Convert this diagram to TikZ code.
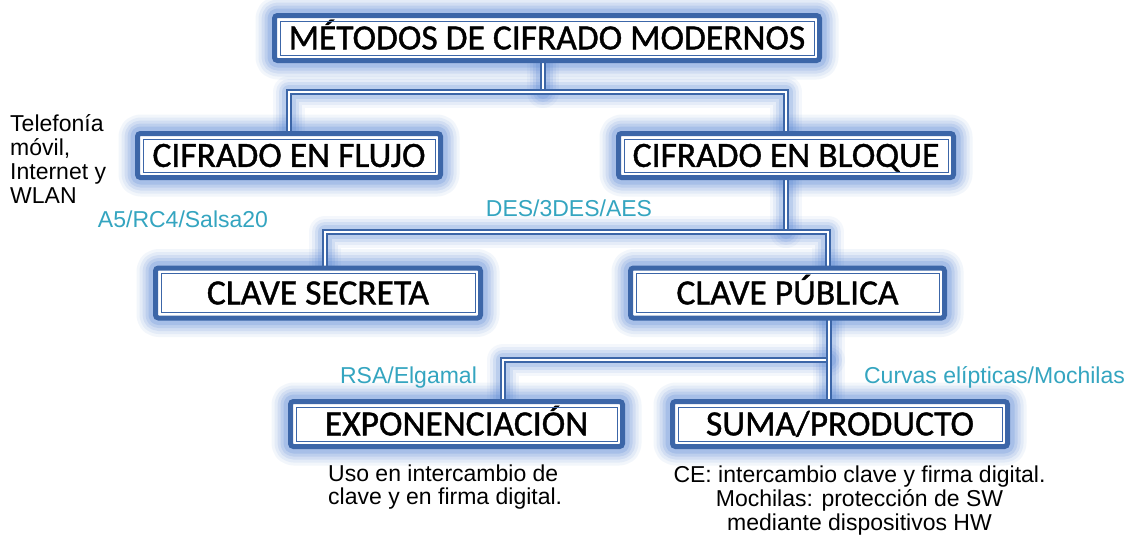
\documentclass[tikz,border=0pt]{standalone}
\usepackage{fontspec}
\setmainfont{Liberation Sans}
\newfontfamily\boxfont{Carlito}[FakeBold=1.1]
\definecolor{frameblue}{RGB}{60,102,168}
\definecolor{glowblue}{RGB}{80,128,212}
\definecolor{tealtxt}{RGB}{52,165,192}
\pgfdeclarelayer{glow}
\pgfdeclarelayer{lines}
\pgfsetlayers{glow,lines,main}
\tikzset{
  cbox/.style={draw=frameblue, line width=5pt, fill=white, rounded corners=3pt,
    outer sep=0pt, inner sep=0pt, text height=22.8pt, text depth=0pt,
    font=\boxfont\fontsize{35.5}{40}\selectfont},
  innerframe/.style={draw=frameblue, line width=1pt},
  glowline/.style={draw=glowblue, line join=round, line cap=round},
  conn/.style={draw=frameblue, line width=2pt, double=white, double distance=2pt},
  lbl/.style={inner sep=0pt, font=\fontsize{23}{23.5}\selectfont},
  teal/.style={lbl, text=tealtxt, anchor=base}
}
\newcommand\mkbox[6]{%
  \node[cbox, minimum width=#4pt, minimum height=#5pt] (#1) at (#2,#3) {#6};
  \draw[innerframe] ([shift={(5.5,5.5)}]#1.north west) rectangle ([shift={(-5.5,-5.5)}]#1.south east);
  \begin{pgfonlayer}{glow}
  \foreach \w/\o in {38/0.07,32/0.09,26/0.12,20/0.15,14/0.2}{%
    \draw[glowline, line width=\w pt, opacity=\o, rounded corners=3pt] (#1.north west) rectangle (#1.south east);}
  \end{pgfonlayer}
}
\newcommand\connpaths[2]{%
  \draw[#1] (flujo.north) |- (j0) -| (bloque.north);
  \draw[#1,#2] (top.south -| j0) -- (j0);
  \draw[#1] (secreta.north -| b1) -- (b1) -- (b2) -- (publica.north -| b2);
  \draw[#1,#2] (bloque.south) -- (bloque.south |- b1);
  \draw[#1,#2] (expo.north -| c1) -- (c1) -- (c2);
  \draw[#1] (publica.south -| c2) -- (suma.north -| c2);
}
\begin{document}
\begin{tikzpicture}[x=1pt,y=-1pt]
\useasboundingbox (0,0) rectangle (1136,546);
\begin{pgfonlayer}{glow}
\fill[white] (0,0) rectangle (1136,546);
\end{pgfonlayer}

\mkbox{top}{547}{38}{545}{45}{MÉTODOS DE CIFRADO MODERNOS}
\mkbox{flujo}{289}{155.5}{303}{44}{CIFRADO EN FLUJO}
\mkbox{bloque}{786}{155.5}{335}{44}{CIFRADO EN BLOQUE}
\mkbox{secreta}{318}{293}{325}{50}{CLAVE SECRETA}
\mkbox{publica}{787.5}{293}{314}{50}{CLAVE PÚBLICA}
\mkbox{expo}{456.5}{424}{332}{45}{EXPONENCIACIÓN}
\mkbox{suma}{840}{424}{335}{45}{SUMA/PRODUCTO}

\coordinate (j0) at (543,92);
\coordinate (b1) at (325,232);
\coordinate (b2) at (828,232);
\coordinate (c1) at (503,360);
\coordinate (c2) at (829,360);

\begin{pgfonlayer}{glow}
\foreach \w/\o in {32/0.06,26/0.09,20/0.13,14/0.17}{%
  \connpaths{glowline, line width=\w pt, opacity=\o}{}}
\end{pgfonlayer}
\begin{pgfonlayer}{lines}
\connpaths{conn}{shorten >=3pt}
\end{pgfonlayer}

\node[lbl, anchor=base west, font=\fontsize{23}{24}\selectfont] (tel) at (10,131)
  {\begin{tabular}[t]{@{}l@{}}Telefonía\\móvil,\\Internet y\\WLAN\end{tabular}};
\node[teal] (a5) at (183,227) {A5/RC4/Salsa20};
\node[teal] (des) at (569,216) {DES/3DES/AES};
\node[teal] (rsa) at (408.5,383) {RSA/Elgamal};
\node[teal] (curv) at (994.5,383) {Curvas elípticas/Mochilas};
\node[lbl, anchor=base west] (uso) at (328,481)
  {\begin{tabular}[t]{@{}l@{}}Uso en intercambio de\\clave y en firma digital.\end{tabular}};
\node[lbl, anchor=base, font=\fontsize{23}{23}\selectfont] (ce) at (859.5,482.7)
  {\begin{tabular}[t]{@{}c@{}}CE: intercambio clave y firma digital.\\Mochilas: protección de SW\\mediante dispositivos HW\end{tabular}};
\end{tikzpicture}
\end{document}
